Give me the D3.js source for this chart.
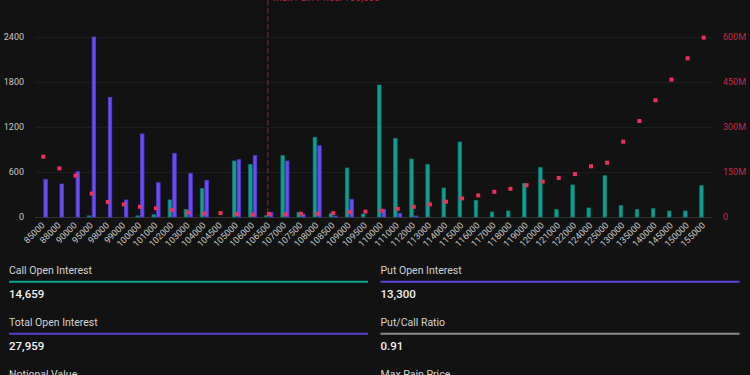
<!DOCTYPE html>
<html>
<head>
<meta charset="utf-8">
<script src="https://cdn.jsdelivr.net/npm/d3@7"></script>
<style>
body { margin: 0; background: #121212; overflow: hidden; }
svg { display: block; font-family: Roboto, "Noto Sans", sans-serif; }
</style>
</head>
<body>
<svg id="chart"></svg>
<script>
var width = 750,
    height = 375;

// strikes and open interest
var strikes = [85000, 88000, 90000, 95000, 98000, 99000, 100000, 101000, 102000, 103000,
    104000, 104500, 105000, 106000, 106500, 107000, 107500, 108000, 108500, 109000,
    109500, 110000, 111000, 112000, 113000, 114000, 115000, 116000, 117000, 118000,
    119000, 120000, 121000, 122000, 124000, 125000, 130000, 135000, 140000, 145000,
    150000, 155000];
var callOI = [0, 0, 0, 15, 0, 0, 15, 30, 227, 102,
    378, 0, 747, 702, 18, 818, 62, 1062, 49, 653,
    40, 1760, 1049, 773, 702, 387, 1000, 222, 67, 80,
    449, 662, 98, 427, 120, 551, 151, 98, 111, 80,
    80, 418];
var putOI = [501, 440, 604, 2400, 1595, 227, 1107, 457, 849, 582,
    489, 0, 764, 818, 58, 747, 40, 951, 13, 236,
    0, 102, 49, 13, 0, 0, 0, 0, 0, 0,
    0, 0, 0, 0, 0, 0, 0, 0, 0, 0,
    0, 0];
// notional value in millions
var notional = [201, 162, 138, 78, 50, 42, 34, 29, 23, 15,
    12, 13, 10, 8, 10, 9, 11, 11, 13, 16,
    18, 21, 27, 34, 42, 51, 62, 72, 84, 94,
    106, 118, 130, 143, 169, 181, 251, 320, 389, 458,
    529, 598];
var maxPain = 106500;
var leftTicks = [0, 600, 1200, 1800, 2400];
var rightTicks = [0, 150, 300, 450, 600];

var statLabels = ["Call Open Interest", "Put Open Interest", "Total Open Interest", "Put/Call Ratio", "Notional Value", "Max Pain Price"];
var statValues = ["14,659", "13,300", "27,959", "0.91", "", ""];
var statColors = ["#12a394", "#5f45e0", "#5a3ccf", "#8c8c8c", "#5a3ccf", "#8c8c8c"];

var svg = d3.select("#chart")
    .attr("width", width)
    .attr("height", height);

var x = d3.scaleBand()
    .domain(strikes)
    .range([35.25, 711.8])
    .paddingInner(0.45)
    .paddingOuter(0.225);

var xSub = d3.scaleBand()
    .domain(["call", "put"])
    .range([0, x.bandwidth()])
    .paddingInner(0.06);

var y = d3.scaleLinear()
    .domain([0, 2400])
    .range([217, 37]);

var y2 = d3.scaleLinear()
    .domain([0, 600])
    .range([217, 37]);

// grid
svg.append("g")
    .selectAll("line")
    .data(leftTicks)
    .enter().append("line")
        .attr("x1", 35)
        .attr("x2", 712)
        .attr("y1", function(d) { return y(d) + 0.5; })
        .attr("y2", function(d) { return y(d) + 0.5; })
        .attr("stroke", function(d) { return d == 0 ? "#333" : "#1d1d1d"; })
        .attr("stroke-width", 1);

// left axis
svg.append("g")
    .attr("transform", "translate(24,0)")
    .call(d3.axisLeft(y).tickValues(leftTicks).tickSize(0).tickPadding(0).tickFormat(d3.format("d")))
    .call(function(g) { g.select(".domain").remove(); })
    .selectAll("text")
        .attr("fill", "#c8c8c8")
        .style("font-size", "9px")
        .style("font-family", "Roboto, sans-serif");

// right axis
svg.append("g")
    .attr("transform", "translate(723,0)")
    .call(d3.axisRight(y2).tickValues(rightTicks).tickSize(0).tickPadding(0)
        .tickFormat(function(d) { return d == 0 ? "0" : d + "M"; }))
    .call(function(g) { g.select(".domain").remove(); })
    .selectAll("text")
        .attr("fill", "#c4294d")
        .style("font-size", "9px")
        .style("font-family", "Roboto, sans-serif");

// x axis, rotated labels
svg.append("g")
    .attr("transform", "translate(0,217)")
    .call(d3.axisBottom(x).tickSize(0))
    .call(function(g) { g.select(".domain").remove(); })
    .selectAll("text")
        .attr("y", 0)
        .attr("x", 0)
        .attr("dy", null)
        .attr("transform", "translate(2,9) rotate(-45)")
        .attr("text-anchor", "end")
        .attr("fill", "#c8c8c8")
        .style("font-size", "9px")
        .style("font-family", "Roboto, sans-serif");

// bars
var rows = strikes.map(function(s, i) {
    return {strike: s, call: callOI[i], put: putOI[i], notional: notional[i]};
});

var barColor = {call: "#0fa093", put: "#6a4cf4"};
var barEdge = {call: "#0b7a70", put: "#5538d0"};

var groups = svg.append("g")
    .selectAll("g")
    .data(rows)
    .enter().append("g")
        .attr("transform", function(d) { return "translate(" + x(d.strike) + ",0)"; });

groups.selectAll("rect")
    .data(function(d) {
        return ["call", "put"]
            .map(function(k) { return {key: k, value: d[k]}; })
            .filter(function(e) { return e.value > 0; });
    })
    .enter().append("rect")
        .attr("x", function(d) { return xSub(d.key) + 0.4; })
        .attr("y", function(d) { return y(d.value); })
        .attr("width", xSub.bandwidth() - 0.8)
        .attr("height", function(d) { return y(0) - y(d.value); })
        .attr("fill", function(d) { return barColor[d.key]; })
        .attr("stroke", function(d) { return barEdge[d.key]; })
        .attr("stroke-width", 0.8);

// max pain line
var mpx = x(maxPain) + x.bandwidth() / 2 - 1;
svg.append("line")
    .attr("x1", mpx)
    .attr("x2", mpx)
    .attr("y1", 0)
    .attr("y2", 217)
    .attr("stroke", "#7c2240")
    .attr("stroke-width", 1.2)
    .attr("stroke-dasharray", "5,3");

svg.append("text")
    .attr("x", mpx + 5)
    .attr("y", 0.5)
    .attr("fill", "#b8233f")
    .style("font-size", "10px")
    .text("Max Pain Price: 106,500");

// notional squares
svg.append("g")
    .selectAll("rect")
    .data(rows)
    .enter().append("rect")
        .attr("x", function(d) { return x(d.strike) + x.bandwidth() / 2 - 2; })
        .attr("y", function(d) { return y2(d.notional) - 2; })
        .attr("width", 4)
        .attr("height", 4)
        .attr("fill", "#ee3159");

// stats panel
var colX = [9, 380.5],
    colW = 359,
    rowY = 270.7,
    rowH = 52;

var stat = svg.append("g")
    .selectAll("g")
    .data(statLabels)
    .enter().append("g")
        .attr("transform", function(d, i) {
            return "translate(" + colX[i % 2] + "," + (rowY + Math.floor(i / 2) * rowH) + ")";
        });

stat.append("text")
    .attr("dy", "0.35em")
    .attr("fill", "#d2d2d2")
    .style("font-size", "10.5px")
    .text(function(d) { return d; });

stat.append("line")
    .attr("x1", 0)
    .attr("x2", colW)
    .attr("y1", 11)
    .attr("y2", 11)
    .attr("stroke", function(d, i) { return statColors[i]; })
    .attr("stroke-width", 2);

stat.append("text")
    .attr("y", 23.6)
    .attr("dy", "0.35em")
    .attr("fill", "#f2f2f2")
    .style("font-size", "11.5px")
    .style("font-weight", 500)
    .text(function(d, i) { return statValues[i]; });
</script>
</body>
</html>
